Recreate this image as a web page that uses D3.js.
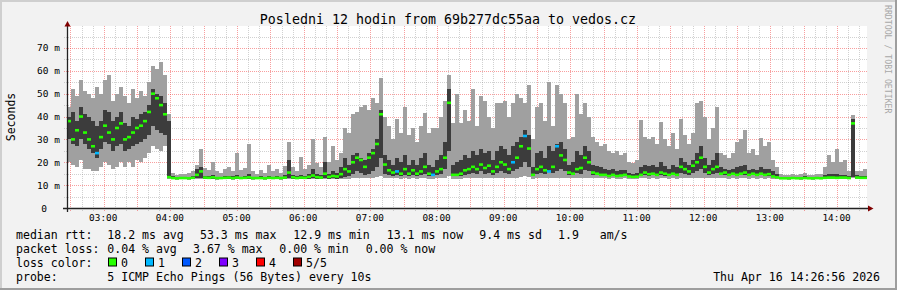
<!DOCTYPE html>
<html lang="en">
<head>
<meta charset="utf-8">
<title>Posledni 12 hodin from 69b277dc55aa to vedos.cz</title>
<style>
body { margin: 0; background: #f2f2f2; }
svg text { font-family: "DejaVu Sans Mono", monospace; fill: #000; white-space: pre; }
</style>
</head>
<body>
<div id="chart"></div>
<script src="https://cdn.jsdelivr.net/npm/d3@7"></script>
<script>
// one sample = 216 s (12 h in 200 steps), values in ms
var pingMin = [
  20,19,18,21,17,17,16,16,18,20, 19,17,18,20,18,20,18,21,20,22,
  24,27,26,25,27,12.8,12.5,12.4,12.5,12.5, 12.4,12.5,12.6,12.6,12.5,12.5,12.5,12.4,12.5,12.5,
  12.5,12.4,12.5,12.5,12.5,12.5,12.4,12.5,12.5,12.4, 12.5,12.5,12.5,12.4,12.5,12.6,12.5,12.5,12.5,12.5,
  12.5,12.6,12.5,12.5,12.6,12.5,12.5,12.5,12.6,12.7, 12.8,13,13,13.2,13,13.1,13.2,13.5,14,13.2,
  13,13,13,12.9,13,12.9,13,12.9,13,13, 12.9,12.9,13,13,13.2,14,12.9,12.8,12.9,13,
  13,13.1,13,13.2,13,13.1,13,13.1,13.2,13.1, 13,13.2,13.3,13.5,14,13.5,12.9,13,13.1,13,
  13.2,13.1,13.2,13.3,13.2,13,13,13.1,13.1,13.3, 13.2,13,13,13,13,12.9,13,12.9,12.9,13,
  12.9,12.8,12.8,13,13,12.9,13,12.9,13,13, 12.9,13,12.9,13.1,13,13,13.1,13.2,13.3,13.1,
  13,13.1,13.2,13,13,12.9,13,12.9,13,13, 12.9,13,12.9,13,12.9,13,12.8,12.7,12.5,12.5,
  12.4,12.5,12.5,12.4,12.5,12.5,12.4,12.5,12.5,12.6, 12.6,12.6,12.5,12.6,12.6,12.5,13,12.6,12.5,12.5
];
var pingLo = [
  30,28,27,30,28,26,24,22,26,29, 28,25,27,28,25,26,27,28,29,30,
  32,36,34,33,32,13,12.8,12.7,12.8,12.8, 12.8,12.9,13.2,13,12.9,12.8,12.9,12.8,12.8,12.9,
  12.8,12.8,12.9,12.8,12.8,12.9,12.8,12.8,12.8,12.8, 12.9,12.8,12.8,12.8,12.9,13.3,12.9,12.8,12.9,12.8,
  12.9,13.1,12.9,12.9,13.2,12.9,13,12.9,13.2,13.6, 14,15,16,15.5,14.5,15,16,18,22,15,
  14.5,14,14.5,14,14.5,14,14.5,14,14.5,15, 14,13.8,14.5,15,17,25,14,13.8,14,14.5,
  15,15.5,15,16,15,15.5,14.5,15.5,16,15.5, 15,16,17,18,20,18,14,15,15.5,15,
  16,15.5,16,17,16,14.5,14.5,15.5,15,16.5, 16,14.5,14.5,14,14,13.8,14,13.8,13.8,14,
  13.6,13.5,13.5,14,14.5,14,14.5,14,14.5,14.2, 14,14.5,14,15.5,15,14.5,15.5,16,17,15.5,
  14.5,15,15.5,14.5,14.5,14,14.5,14,14.5,14.5, 14,14.5,14,14.5,14,14.2,13.5,13.2,12.9,12.9,
  12.8,12.9,12.8,12.9,12.8,12.9,12.8,12.9,12.9,13, 13,13,12.9,13,13,12.9,13.5,13,12.9,12.9
];
var pingHi = [
  40,42,38,44,41,40,38,36,38,43, 42,38,40,42,37,36,40,39,41,42,
  45,52,50,49,46,38,13.8,13.5,13.6,13.7, 13.5,13.8,17,18,14,13.8,14.5,13.7,13.6,14,
  14.2,13.8,14.5,13.7,14,14.8,13.7,13.6,13.8,13.6, 14.2,13.7,13.9,13.6,14.5,21,14.5,13.8,14.5,14,
  15,17,15,14.5,20,15,16,15.5,18,22, 19,23,24,22,21,24,26,30,43,23,
  21,19,22,20,23,19,21,19,22,24, 19,18,21,23,29,52,19,20,21,23,
  22,25,23,26,24,25,21,25,27,26, 23,27,29,31,34,32,18,24,25,22,
  27,25,28,29,26,19,20,25,23,27, 25,19,18.5,18,17,16.5,17,16,16.5,16.5,
  15.5,15,15.5,18,19,18.5,19,18,20,18.5, 17,19,18,22,20,19,21,24,27,22,
  19,21,24,18,17,16.5,17,18,18.5,19, 16.5,17,16.5,18,17,17,16,15,13.6,13.5,
  13.6,13.7,13.5,13.6,13.8,13.6,13.5,13.7,13.6,14.5, 15,14.8,15,14.5,14.5,13.8,39,14.5,14,14.2
];
var pingMax = [
  44,52,49,56,51,50,48,53,50,56, 58,47,50,53,49,46,52,48,51,49,
  55,62,61,64,58,41,15.5,14.6,15,14.8, 15.2,16,19,26,17.5,16.5,20,16,15.5,17,
  18,16,24,16.5,17.5,28,16,15,16.5,15.5, 19,16,17,15.5,18.5,29,18,16,22.5,17,
  19,30,19.5,18,31,20,27,21,24,35, 33,41,42,44,45,43,48,46,57,40,
  36,30,39,33,44,32,35,29,36,41.5, 33,35,35,40,47,58,37,50,37,43,
  38,52,36,49,47,40,35,46,46,47, 40,46,50,48,46,54,30,44,46,38,
  55,36,54,50,46,30,31,50,41,46, 40,31,29,27,28,25,24,25,23,24,
  20,19.5,21,38.5,31,30,31,28,37.6,30, 27,33,26,39,32,28,33,46,47,40,
  30,35,44,24,23,22,24,29,30,34, 24,26,23,30.6,27,29,21,18,14.8,14.5,
  14.6,15,14.5,14.8,15.2,14.6,14.5,15,14.7,18, 23,20,26,20,21,16,40.5,16,16,17
];
var median = [
  38,30,34,40,33,30,27,24,31,36, 33,30,35,37,30,31,33,35,36,38,
  42,50,48,45,41,13.5,13.1,13,13.1,13.1, 13,13.2,14.5,16,13.3,13.2,13.4,13.1,13.1,13.2,
  13.3,13.1,13.3,13.1,13.2,13.4,13.1,13.1,13.1,13, 13.2,13.1,13.2,13.1,13.3,15.5,13.4,13.1,13.3,13.2,
  13.6,14.2,13.5,13.3,15,13.6,14,13.8,14.8,17, 16,20,22,21,18,22,24,28,41,19,
  16.5,15.5,16,15,17,15,16.5,15,16,18, 15,14.5,16,17,22,46,14.5,14.5,15,16.5,
  17,18,17,19,17.5,18.5,16,18,20,19, 17,20,22,27,31.5,26,14.5,17,18,16.5,
  16,18,27,23,21,15.5,15,17,17.5,22, 20,15.5,15,14.5,14.5,14,14.5,14,14.2,14.5,
  13.8,13.6,13.7,14.5,15.5,14.8,15,14.5,15.5,15, 14.5,15,14.5,18,17,16,18.5,20,22,18,
  15.5,17,18,15,15.5,14.5,15,14.5,15,15.5, 14.5,15,14.5,15,14.5,14.8,13.8,13.4,13,13,
  13,13.1,13,13,13.1,13,13,13.1,13,13.2, 13.3,13.3,13.2,13.3,13.3,13.1,37,13.3,13.2,13.2
];
// samples where 1 of 5 pings was lost
var lossOneAt = [7, 82, 91, 111, 114, 120, 122];

var lossColors = ["#26ff00", "#00b8ff", "#0059ff", "#7e00ff", "#ff0000", "#a10000"];
var lossLabels = ["0", "1", "2", "3", "4", "5/5"];
var yTicks = [0, 10, 20, 30, 40, 50, 60, 70];

var rttStats = ["18.2 ms avg", "53.3 ms max", "12.9 ms min", "13.1 ms now", "9.4 ms sd", "1.9   am/s"];
var lossStats = ["0.04 % avg", "3.67 % max", "0.00 % min", "0.00 % now"];
var probeText = "5 ICMP Echo Pings (56 Bytes) every 10s";
var stampText = "Thu Apr 16 14:26:56 2026";
var titleText = "Posledni 12 hodin from 69b277dc55aa to vedos.cz";

var start = new Date(2026, 3, 16, 2, 26, 56),
    end = new Date(2026, 3, 16, 14, 26, 56),
    stepMs = 216 * 1000;

var W = 897, H = 290;
var svg = d3.select("#chart").append("svg")
    .attr("width", W).attr("height", H);

// background + rrdtool frame
svg.append("rect").attr("width", W).attr("height", H).attr("fill", "#f2f2f2");
svg.append("path").attr("d", "M0,1H" + W + "M1,0V" + H).attr("stroke", "#cfcfcf").attr("stroke-width", 2);
svg.append("path").attr("d", "M0," + (H - 1) + "H" + W + "M" + (W - 1) + ",0V" + H).attr("stroke", "#9e9e9e").attr("stroke-width", 2);

var x = d3.scaleTime().domain([start, end]).range([67, 867]);
var y = d3.scaleLinear().domain([0, 79.6]).range([208, 26]);

svg.append("rect").attr("x", 67).attr("y", 26).attr("width", 800).attr("height", 182).attr("fill", "#fff");

// grid (dotted): grey every 5 ms / 10 min, red every 10 ms / 30 min
var grid = svg.append("g").attr("stroke-width", 1).attr("stroke-dasharray", "1,1");
var minorY = d3.range(5, 80, 10), majorY = yTicks.filter(function(v) { return v > 0; });
var minorGrey = "rgba(140,140,140,0.4)", majorRed = "rgba(240,40,40,0.45)";
grid.selectAll(".gy").data(minorY).enter().append("line")
    .attr("x1", 64).attr("x2", 867)
    .attr("y1", function(v) { return Math.round(y(v)) + 0.5; })
    .attr("y2", function(v) { return Math.round(y(v)) + 0.5; })
    .attr("stroke", minorGrey);
grid.selectAll(".gx").data(d3.timeMinute.every(10).range(start, end).filter(function(t) { return t.getMinutes() % 30; }))
    .enter().append("line")
    .attr("x1", function(t) { return Math.round(x(t)) + 0.5; })
    .attr("x2", function(t) { return Math.round(x(t)) + 0.5; })
    .attr("y1", 26).attr("y2", 211)
    .attr("stroke", minorGrey);
grid.selectAll(".my").data(majorY).enter().append("line")
    .attr("x1", 64).attr("x2", 867)
    .attr("y1", function(v) { return Math.round(y(v)) + 0.5; })
    .attr("y2", function(v) { return Math.round(y(v)) + 0.5; })
    .attr("stroke", majorRed);
grid.selectAll(".mx").data(d3.timeMinute.every(30).range(start, end))
    .enter().append("line")
    .attr("x1", function(t) { return Math.round(x(t)) + 0.5; })
    .attr("x2", function(t) { return Math.round(x(t)) + 0.5; })
    .attr("y1", 26).attr("y2", 212)
    .attr("stroke", majorRed);

var samples = median.map(function(m, i) {
  return {
    t: new Date(start.getTime() + i * stepMs),
    t1: new Date(start.getTime() + (i + 1) * stepMs),
    min: pingMin[i], lo: pingLo[i], hi: pingHi[i], max: pingMax[i],
    med: m, loss: lossOneAt.indexOf(i) >= 0 ? 1 : 0
  };
});
var stepped = samples.concat([Object.assign({}, samples[samples.length - 1], { t: end })]);

// smoke
var g = svg.append("g");
g.append("path").datum(stepped)
    .attr("fill", "#a0a0a0").attr("shape-rendering", "crispEdges")
    .attr("d", d3.area().curve(d3.curveStepAfter)
      .x(function(d) { return x(d.t); })
      .y0(function(d) { return y(d.min); })
      .y1(function(d) { return y(d.max); }));
g.append("path").datum(stepped)
    .attr("fill", "#3c3c3c").attr("shape-rendering", "crispEdges")
    .attr("d", d3.area().curve(d3.curveStepAfter)
      .x(function(d) { return x(d.t); })
      .y0(function(d) { return y(d.lo); })
      .y1(function(d) { return y(d.hi); }));

// median, coloured by loss
g.selectAll(".med").data(samples).enter().append("rect")
    .attr("class", "med")
    .attr("x", function(d) { return x(d.t); })
    .attr("width", function(d) { return x(d.t1) - x(d.t); })
    .attr("y", function(d) { return y(d.med) - 1.3; })
    .attr("height", 2.6)
    .attr("fill", function(d) { return lossColors[d.loss]; });

// axes with arrows
svg.append("line").attr("x1", 63).attr("x2", 869).attr("y1", 208.5).attr("y2", 208.5)
    .attr("stroke", "#222").attr("stroke-width", 1.3);
svg.append("line").attr("x1", 67.5).attr("x2", 67.5).attr("y1", 212).attr("y2", 24)
    .attr("stroke", "#222").attr("stroke-width", 1.3);
svg.append("path").attr("d", "M868,205.5L873.5,208.5L868,211.5Z").attr("fill", "#800000");
svg.append("path").attr("d", "M64.5,26.5L67.5,21L70.5,26.5Z").attr("fill", "#800000");

// tick labels
svg.selectAll(".yl").data(yTicks).enter().append("text")
    .attr("x", function(v) { return v === 0 ? 47 : 60; })
    .attr("y", function(v) { return y(v) + 3.5; })
    .attr("text-anchor", "end").attr("font-size", "9.5px")
    .text(function(v) { return v === 0 ? "0" : v + " m"; });
svg.selectAll(".xl").data(d3.timeHour.every(1).range(start, end)).enter().append("text")
    .attr("x", function(t) { return x(t) - 0.5; })
    .attr("y", 220.5)
    .attr("text-anchor", "middle").attr("font-size", "9.4px")
    .text(d3.timeFormat("%H:%M"));

// titles
svg.append("text").attr("x", 448).attr("y", 23.5).attr("text-anchor", "middle")
    .attr("font-size", "13.3px").text(titleText);
svg.append("text").attr("transform", "translate(15,117) rotate(-90)")
    .attr("text-anchor", "middle").attr("font-size", "11.5px").text("Seconds");
svg.append("text").attr("transform", "translate(885,5) rotate(90)")
    .attr("font-size", "8.2px").style("fill", "#a8a8a8").text("RRDTOOL / TOBI OETIKER");

// legend
var fs = "11.55px";
function line(txt, xx, yy) {
  svg.append("text").attr("x", xx).attr("y", yy).attr("font-size", fs).text(txt);
}
line("median rtt:", 16, 238.5);
[107.3, 200, 293.3, 386.7, 479.3, 558].forEach(function(px, i) { line(rttStats[i], px, 238.5); });
line("packet loss:", 16, 252.5);
[107.3, 193, 279.3, 365.7].forEach(function(px, i) { line(lossStats[i], px, 252.5); });
line("loss color:", 16, 266.5);
lossLabels.forEach(function(lb, i) {
  var bx = 108.5 + i * 37;
  svg.append("rect").attr("x", bx).attr("y", 258).attr("width", 8).attr("height", 8)
      .attr("fill", lossColors[i]).attr("stroke", "#000").attr("stroke-width", 1);
  line(lb, bx + 12.5, 266.5);
});
line("probe:", 16, 280.5);
line(probeText, 107.3, 280.5);
svg.append("text").attr("x", 880).attr("y", 280.5).attr("text-anchor", "end")
    .attr("font-size", fs).text(stampText);
</script>
</body>
</html>
